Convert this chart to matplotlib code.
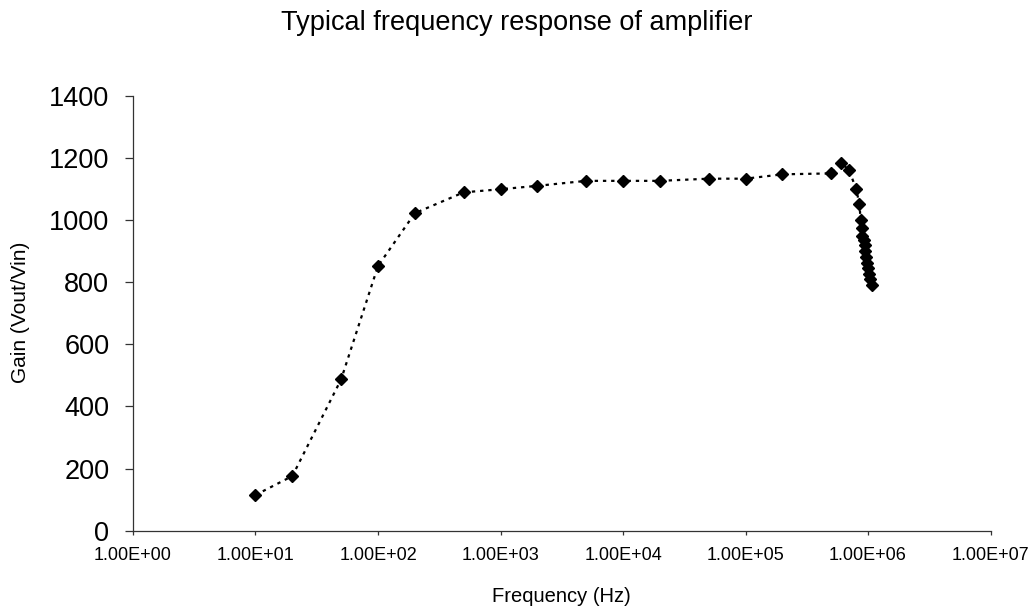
import numpy as np
import matplotlib
matplotlib.use("Agg")
import matplotlib.pyplot as plt
from matplotlib.ticker import FixedLocator, FuncFormatter, NullLocator

plt.rcParams["font.family"] = ["Liberation Sans", "DejaVu Sans"]

# frequency (Hz) and gain
freq = [1e1, 2e1, 5e1, 1e2, 2e2, 5e2, 1e3, 2e3, 5e3, 1e4, 2e4, 5e4, 1e5, 2e5,
        5e5, 6e5, 7e5, 8e5, 8.5e5, 8.7e5, 8.9e5, 9.0e5, 9.2e5, 9.4e5, 9.5e5,
        9.6e5, 9.8e5, 1.0e6, 1.02e6, 1.04e6, 1.07e6]
gain = [115, 176, 487, 852, 1022, 1089, 1099, 1110, 1126, 1126, 1126, 1133, 1133, 1147,
        1150, 1184, 1161, 1099, 1051, 1000, 975, 950, 935, 918, 900,
        880, 862, 845, 825, 810, 790]

x_ticks = [1e0, 1e1, 1e2, 1e3, 1e4, 1e5, 1e6, 1e7]
y_ticks = [0, 200, 400, 600, 800, 1000, 1200, 1400]

fig = plt.figure(figsize=(10.34, 6.12), dpi=100)
ax = fig.add_axes([0.1286, 0.1328, 0.958 - 0.1286, 0.8436 - 0.1328])

ax.plot(freq, gain, color="black", linestyle=(0, (1.5, 2.2)), linewidth=1.6,
        marker="D", markersize=6, markerfacecolor="black", markeredgecolor="black")

ax.set_xscale("log")
ax.set_xlim(1e0, 1e7)
ax.set_ylim(0, 1400)
ax.xaxis.set_major_locator(FixedLocator(x_ticks))
ax.xaxis.set_minor_locator(NullLocator())
ax.xaxis.set_major_formatter(FuncFormatter(lambda v, p: f"{v:.2E}"))
ax.yaxis.set_major_locator(FixedLocator(y_ticks))

for side in ["top", "right"]:
    ax.spines[side].set_visible(False)
for side in ["left", "bottom"]:
    ax.spines[side].set_linewidth(0.9)
    ax.spines[side].set_color("#333333")

ax.tick_params(axis="x", direction="out", length=3, width=0.9, color="#333333",
               labelsize=13, pad=8.5)
ax.tick_params(axis="y", direction="out", length=6, width=0.9, color="#333333",
               labelsize=19.5, pad=11)

fig.text(0.5615 - 0.0185, 0.026, "Frequency (Hz)", fontsize=14.5, ha="center", va="center")
fig.text(0.0203, 0.4894, "Gain (Vout/Vin)", fontsize=15, rotation=90,
         ha="center", va="center")
fig.text(0.5, 0.962, "Typical frequency response of amplifier", fontsize=19.5,
         ha="center", va="center")

fig.savefig("out.png", dpi=100, facecolor="white")
